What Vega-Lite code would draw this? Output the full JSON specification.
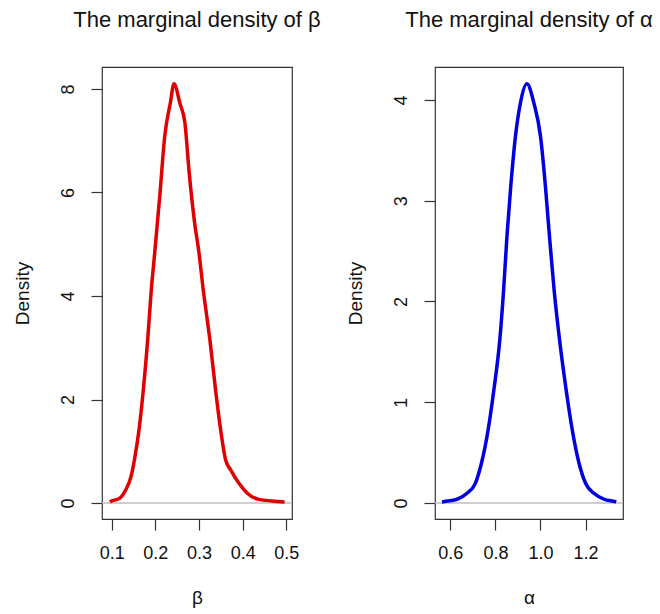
{
  "$schema": "https://vega.github.io/schema/vega-lite/v6.json",
  "background": "white",
  "padding": {"left": 12, "top": 8, "right": 0, "bottom": 0},
  "spacing": 143,
  "bounds": "flush",
  "config": {
    "font": "Liberation Sans",
    "view": {"stroke": "#333333", "strokeWidth": 1.2},
    "title": {"font": "Liberation Sans", "fontSize": 22, "fontWeight": "normal", "color": "#111111", "anchor": "middle", "baseline": "alphabetic", "offset": 35},
    "axis": {"domain": false, "grid": false, "ticks": true, "tickColor": "#333333", "tickSize": 11, "tickWidth": 1.2,
      "labelFont": "Liberation Sans", "labelFontSize": 18, "labelColor": "#111111",
      "titleFont": "Liberation Sans", "titleFontSize": 19, "titleFontWeight": "normal", "titleColor": "#111111"},
    "axisY": {"labelAngle": -90, "labelAlign": "center", "labelBaseline": "bottom", "labelPadding": 14, "titlePadding": 27},
    "axisX": {"labelPadding": 14, "titlePadding": 26}
  },
  "datasets": {
    "beta": [
      {"x": 0.096, "density": 0.02},
      {"x": 0.0977, "density": 0.03},
      {"x": 0.118, "density": 0.09},
      {"x": 0.132, "density": 0.25},
      {"x": 0.1442, "density": 0.51},
      {"x": 0.1534, "density": 0.9},
      {"x": 0.1625, "density": 1.41},
      {"x": 0.1724, "density": 2.18},
      {"x": 0.1824, "density": 3.15},
      {"x": 0.1907, "density": 4.12},
      {"x": 0.1985, "density": 4.83},
      {"x": 0.2106, "density": 5.98},
      {"x": 0.2214, "density": 7.08},
      {"x": 0.2345, "density": 7.74},
      {"x": 0.2427, "density": 8.1},
      {"x": 0.2564, "density": 7.72},
      {"x": 0.2678, "density": 7.34},
      {"x": 0.277, "density": 6.43},
      {"x": 0.2891, "density": 5.47},
      {"x": 0.3, "density": 4.83},
      {"x": 0.31, "density": 4.1},
      {"x": 0.325, "density": 3.15},
      {"x": 0.338, "density": 2.18},
      {"x": 0.3496, "density": 1.41},
      {"x": 0.361, "density": 0.83},
      {"x": 0.3725, "density": 0.64},
      {"x": 0.3915, "density": 0.38},
      {"x": 0.4105, "density": 0.19},
      {"x": 0.437, "density": 0.07},
      {"x": 0.4678, "density": 0.04},
      {"x": 0.496, "density": 0.02}
    ],
    "alpha": [
      {"x": 0.563, "density": 0.01},
      {"x": 0.571, "density": 0.013},
      {"x": 0.63, "density": 0.037},
      {"x": 0.674, "density": 0.096},
      {"x": 0.711, "density": 0.195},
      {"x": 0.738, "density": 0.394},
      {"x": 0.7676, "density": 0.725},
      {"x": 0.793, "density": 1.12},
      {"x": 0.8195, "density": 1.62},
      {"x": 0.836, "density": 2.1},
      {"x": 0.851, "density": 2.64},
      {"x": 0.868, "density": 3.14},
      {"x": 0.889, "density": 3.64},
      {"x": 0.911, "density": 3.97},
      {"x": 0.9395, "density": 4.16},
      {"x": 0.9706, "density": 3.97},
      {"x": 1.0, "density": 3.64},
      {"x": 1.022, "density": 3.14},
      {"x": 1.04, "density": 2.64},
      {"x": 1.061, "density": 2.1},
      {"x": 1.0845, "density": 1.62},
      {"x": 1.114, "density": 1.12},
      {"x": 1.141, "density": 0.725},
      {"x": 1.171, "density": 0.394},
      {"x": 1.2, "density": 0.195},
      {"x": 1.237, "density": 0.096},
      {"x": 1.282, "density": 0.037},
      {"x": 1.331, "density": 0.013},
      {"x": 1.336, "density": 0.01}
    ]
  },
  "hconcat": [
    {
      "width": 190,
      "height": 452,
      "title": {"text": "The marginal density of β"},
      "layer": [
        {
          "data": {"values": [{"zero": 0}]},
          "mark": {"type": "rule", "color": "#BEBEBE", "strokeWidth": 1.5},
          "encoding": {
            "y": {"field": "zero", "type": "quantitative", "scale": {"domain": [-0.309, 8.425], "nice": false, "zero": false}, "axis": {"values": [0, 2, 4, 6, 8], "title": "Density"}}
          }
        },
        {
          "data": {"name": "beta"},
          "mark": {"type": "line", "color": "#E00000", "strokeWidth": 3.5, "interpolate": "monotone"},
          "encoding": {
            "x": {"field": "x", "type": "quantitative", "scale": {"domain": [0.0778, 0.513], "nice": false, "zero": false}, "axis": {"values": [0.1, 0.2, 0.3, 0.4, 0.5], "format": ".1f", "title": "β"}},
            "y": {"field": "density", "type": "quantitative", "scale": {"domain": [-0.309, 8.425], "nice": false, "zero": false}, "axis": {"values": [0, 2, 4, 6, 8], "title": "Density"}}
          }
        }
      ]
    },
    {
      "width": 188,
      "height": 452,
      "title": {"text": "The marginal density of α"},
      "layer": [
        {
          "data": {"values": [{"zero": 0}]},
          "mark": {"type": "rule", "color": "#BEBEBE", "strokeWidth": 1.5},
          "encoding": {
            "y": {"field": "zero", "type": "quantitative", "scale": {"domain": [-0.159, 4.327], "nice": false, "zero": false}, "axis": {"values": [0, 1, 2, 3, 4], "title": "Density"}}
          }
        },
        {
          "data": {"name": "alpha"},
          "mark": {"type": "line", "color": "#0000E0", "strokeWidth": 3.5, "interpolate": "monotone"},
          "encoding": {
            "x": {"field": "x", "type": "quantitative", "scale": {"domain": [0.532, 1.366], "nice": false, "zero": false}, "axis": {"values": [0.6, 0.8, 1.0, 1.2], "format": ".1f", "title": "α"}},
            "y": {"field": "density", "type": "quantitative", "scale": {"domain": [-0.159, 4.327], "nice": false, "zero": false}, "axis": {"values": [0, 1, 2, 3, 4], "title": "Density"}}
          }
        }
      ]
    }
  ]
}
